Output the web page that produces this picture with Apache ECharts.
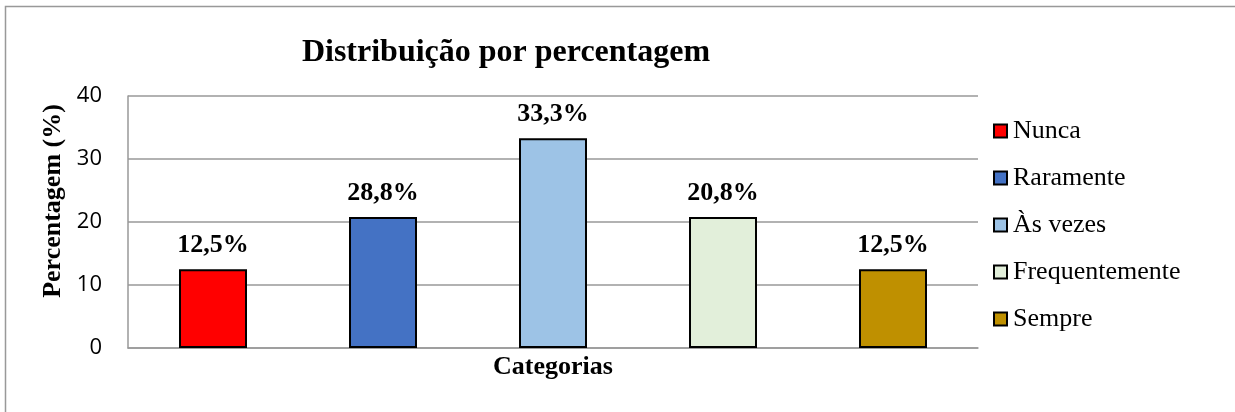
<!DOCTYPE html>
<html>
<head>
<meta charset="utf-8">
<script src="https://cdn.jsdelivr.net/npm/echarts@6/dist/echarts.min.js"></script>
<style>
  html, body { margin: 0; padding: 0; background: #fff; }
  #main { width: 1235px; height: 412px; }
</style>
</head>
<body>
<div id="main"></div>
<script>
const categories = ["Nunca", "Raramente", "Às vezes", "Frequentemente", "Sempre"];
const values = [12.5, 20.8, 33.3, 20.8, 12.5];
const labels = ["12,5%", "28,8%", "33,3%", "20,8%", "12,5%"];
const colors = ["#FF0000", "#4472C4", "#9DC3E6", "#E2EFDA", "#BF9000"];
const yTicks = [0, 10, 20, 30, 40];

const serif = "'Liberation Serif', 'Times New Roman', serif";
const myChart = echarts.init(document.getElementById("main"));

// one series per category so the legend lists them; stacked so each bar stays centred
const series = categories.map(function (name, i) {
  return {
    name: name,
    type: "bar",
    stack: "all",
    barWidth: 68,
    itemStyle: { color: colors[i], borderColor: "#000", borderWidth: 2 },
    label: {
      show: true,
      position: "top",
      distance: 11,
      formatter: labels[i],
      fontFamily: serif,
      fontWeight: "bold",
      fontSize: 26,
      color: "#000",
    },
    data: categories.map(function (c, j) { return j === i ? values[i] : "-"; }),
  };
});

myChart.setOption({
  animation: false,
  title: {
    text: "Distribuição por percentagem",
    left: 501,
    top: 32,
    textAlign: "center",
    textStyle: { fontFamily: serif, fontWeight: "bold", fontSize: 32, color: "#000" },
  },
  legend: {
    orient: "vertical",
    left: 988,
    top: 113,
    itemWidth: 13,
    itemHeight: 13,
    itemGap: 21,
    icon: "rect",
    itemStyle: { borderColor: "#000", borderWidth: 2 },
    textStyle: { fontFamily: serif, fontSize: 26, color: "#000", padding: [0, 0, 0, 1] },
    data: categories,
  },
  graphic: [
    {
      type: "rect",
      shape: { x: 5.5, y: 6.5, width: 1250, height: 420 },
      style: { fill: "none", stroke: "#999", lineWidth: 1.5 },
      silent: true,
    },
  ],
  grid: { left: 128, right: 257, top: 96, bottom: 64 },
  xAxis: {
    type: "category",
    data: categories,
    name: "Categorias",
    nameLocation: "middle",
    nameGap: 6,
    nameTextStyle: { fontFamily: serif, fontWeight: "bold", fontSize: 26, color: "#000" },
    axisLine: { lineStyle: { color: "#999", width: 1.5 } },
    axisTick: { show: false },
    axisLabel: { show: false },
  },
  yAxis: {
    type: "value",
    min: yTicks[0],
    max: yTicks[yTicks.length - 1],
    interval: 10,
    name: "Percentagem (%)",
    nameLocation: "middle",
    nameGap: 62,
    nameTextStyle: {
      fontFamily: serif, fontWeight: "bold", fontSize: 26, color: "#000",
      padding: [0, 0, 0, 42],
    },
    axisLine: { show: true, lineStyle: { color: "#999", width: 1.5 } },
    axisTick: { show: false },
    axisLabel: { fontFamily: "'Open Sans', sans-serif", fontSize: 22, color: "#000", margin: 26 },
    splitLine: { lineStyle: { color: "#999", width: 1.5 } },
  },
  series: series,
});

window.addEventListener("resize", function () {
  myChart.resize();
});
</script>
</body>
</html>
